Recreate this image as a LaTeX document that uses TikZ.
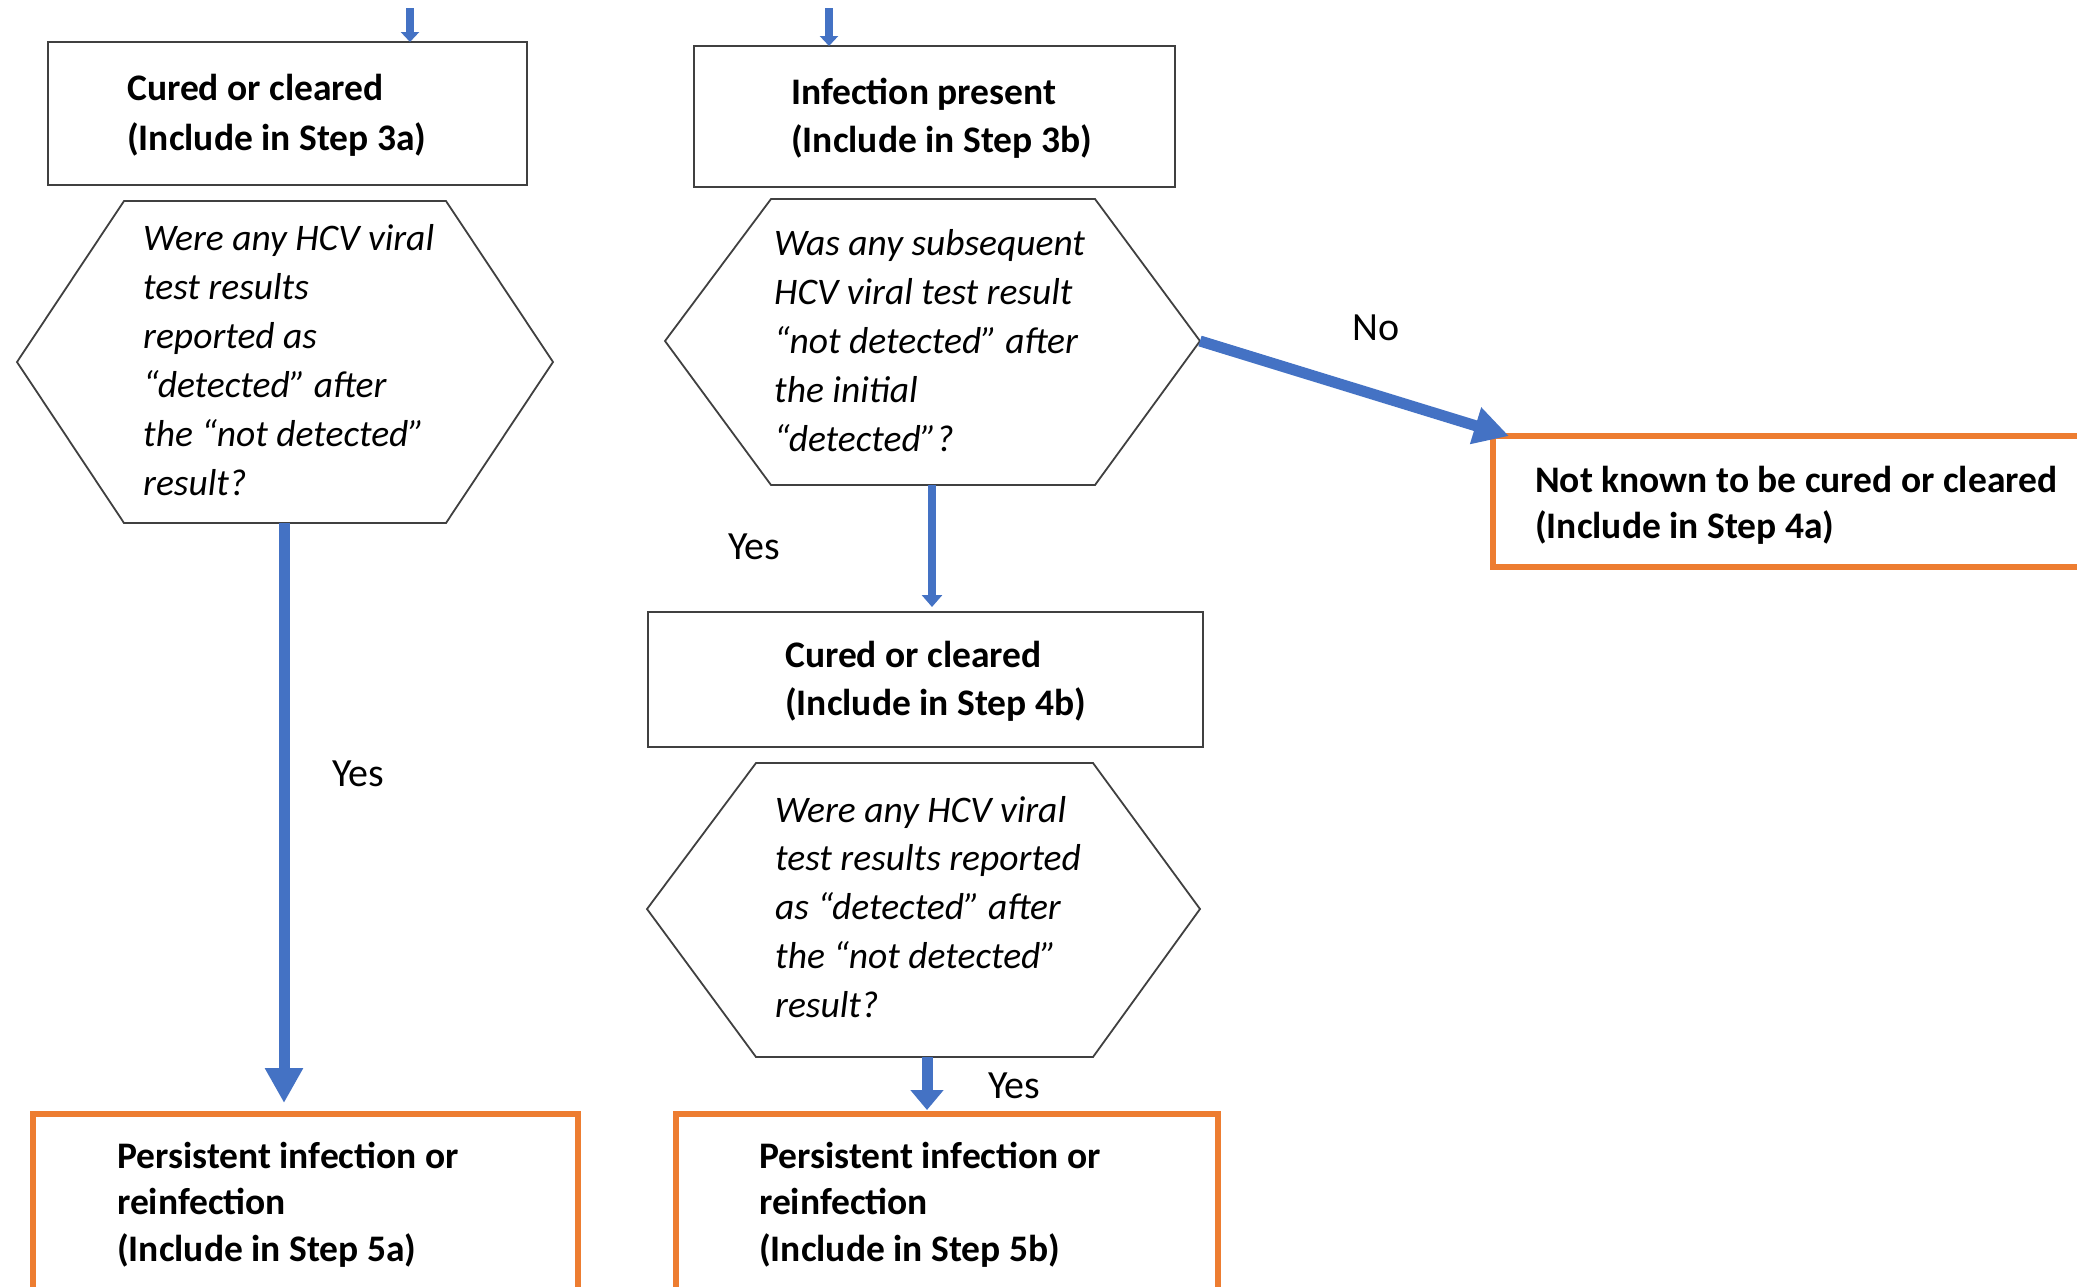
\documentclass[tikz,border=0pt]{standalone}
\usepackage{fontspec}
\setmainfont{Carlito}
\usetikzlibrary{arrows.meta,calc}
\definecolor{flowblue}{HTML}{4472C4}
\definecolor{floworange}{HTML}{ED7D31}
\definecolor{edgegray}{HTML}{404040}
\newcommand{\toplines}[1]{\begin{tabular}[t]{@{}l@{}}#1\end{tabular}}
\begin{document}
\begin{tikzpicture}[x=1pt,y=-1pt,
  plainbox/.style={draw=edgegray, line width=2.2pt, inner sep=0pt, outer sep=0pt},
  outbox/.style={draw=floworange, line width=6pt, inner sep=0pt, outer sep=0pt},
  hexline/.style={draw=edgegray, line width=1.8pt, line join=miter},
  btext/.style={font=\fontsize{37.5}{#1}\selectfont\bfseries, inner sep=0pt, anchor=base west},
  itext/.style={font=\fontsize{37.5}{#1}\selectfont\itshape, inner sep=0pt, anchor=base west},
  lbl/.style={font=\fontsize{40}{46}\selectfont, inner sep=0pt, anchor=base west},
  flow/.style={draw=flowblue, line width=11pt, -{Triangle[length=35pt,width=36pt]}},
  shortflow/.style={draw=flowblue, line width=11pt, -{Triangle[length=20pt,width=32pt]}},
  thinflow/.style={draw=flowblue, line width=8pt, -{Triangle[length=12pt,width=20pt]}},
  stub/.style={draw=flowblue, line width=8pt, -{Triangle[length=10pt,width=18pt]}}]
\useasboundingbox (0,0) rectangle (2077,1286);
\fill[white] (0,0) rectangle (2077,1286);
\begin{scope}
\clip (0,0) rectangle (2077,1286);
% boxes
\node[plainbox, minimum width=479pt, minimum height=143pt] (A) at (287.5,113.5) {};
\node[plainbox, minimum width=481pt, minimum height=141pt] (B) at (934.5,116.5) {};
\node[outbox, minimum width=607pt, minimum height=131pt] (C) at (1796.5,501.5) {};
\node[outbox, minimum width=545pt, minimum height=196pt] (D) at (305.5,1212) {};
\node[plainbox, minimum width=555pt, minimum height=135pt] (E) at (925.5,679.5) {};
\node[outbox, minimum width=542pt, minimum height=196pt] (F) at (947,1212) {};
% box texts
\node[btext=50] (At) at (127,100) {\toplines{Cured or cleared\\(Include in Step 3a)}};
\node[btext=48] (Bt) at (791,104) {\toplines{Infection present\\(Include in Step 3b)}};
\node[btext=46] (Ct) at (1535,492) {\toplines{Not known to be cured or cleared\\(Include in Step 4a)}};
\node[btext=48] (Et) at (785,667) {\toplines{Cured or cleared\\(Include in Step 4b)}};
\node[btext=46.5] (Dt) at (117,1168) {\toplines{Persistent infection or\\reinfection\\(Include in Step 5a)}};
\node[btext=46.5] (Ft) at (759,1168) {\toplines{Persistent infection or\\reinfection\\(Include in Step 5b)}};
% hexagons
\draw[hexline] (17,362) -- (124,201) -- (446,201) -- (553,362) -- (446,523) -- (124,523) -- cycle;
\draw[hexline] (665,341) -- (771,199) -- (1095,199) -- (1200,341) -- (1095,485) -- (771,485) -- cycle;
\draw[hexline] (647,909) -- (756,763) -- (1093,763) -- (1200,909) -- (1093,1057) -- (756,1057) -- cycle;
\coordinate (hAb) at (284,523);
\coordinate (hBb) at (932,485);
\coordinate (hBr) at (1200,341);
\coordinate (hEb) at (927,1057);
% hexagon texts
\node[itext=49] (hAt) at (143,250) {\toplines{Were any HCV viral\\test results\\reported as\\“detected” after\\the “not detected”\\result?}};
\node[itext=49] (hBt) at (774,255) {\toplines{Was any subsequent\\HCV viral test result\\“not detected” after\\the initial\\“detected”?}};
\node[itext=48.75] (hEt) at (775,822) {\toplines{Were any HCV viral\\test results reported\\as “detected” after\\the “not detected”\\result?}};
% labels
\node[lbl] (yes1) at (332,786) {Yes};
\node[lbl] (yes2) at (728,559) {Yes};
\node[lbl] (yes3) at (988,1098) {Yes};
\node[lbl] (no) at (1352,340) {No};
% connectors
\coordinate (sA) at (410,8);
\coordinate (sB) at (829,8);
\draw[stub] (sA) -- (sA |- A.north);
\draw[stub] (sB) -- (sB |- B.north);
\draw[flow, shorten >=11pt] (hAb) -- (hAb |- D.north);
\draw[thinflow, shorten >=5pt] (hBb) -- (hBb |- E.north);
\draw[flow] (hBr) -- ($(C.north west)+(16,0)$);
\draw[shortflow, shorten >=4pt] (hEb) -- (hEb |- F.north);
\end{scope}
\end{tikzpicture}
\end{document}
